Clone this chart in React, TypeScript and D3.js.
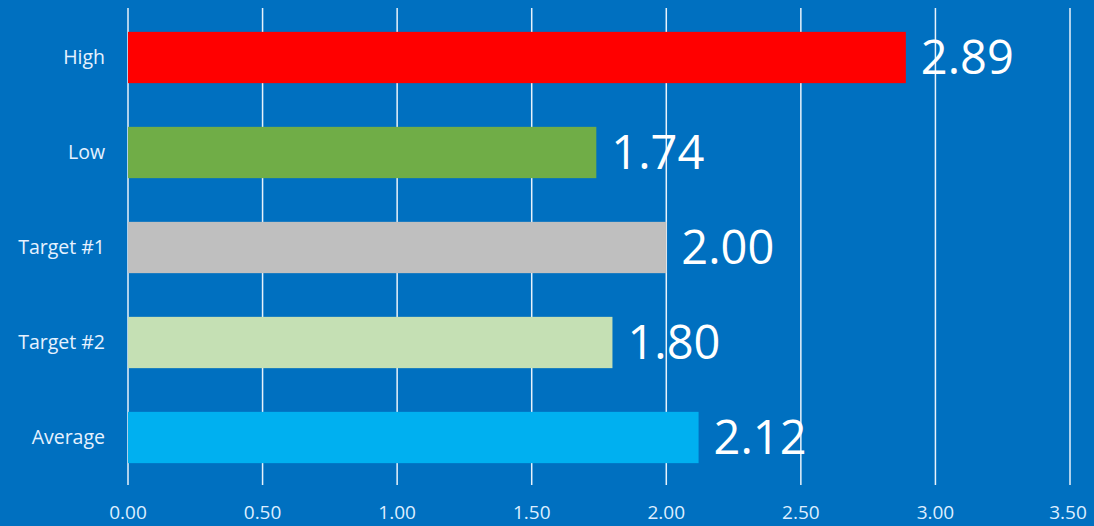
import React from "react";
import * as d3 from "d3";

const categories = ["High", "Low", "Target #1", "Target #2", "Average"];
const values = [2.89, 1.74, 2.0, 1.8, 2.12];
const barColors = ["#FF0000", "#70AD47", "#BFBFBF", "#C5E0B4", "#00B0F0"];
const tickValues = [0, 0.5, 1, 1.5, 2, 2.5, 3, 3.5];

const W = 1094;
const H = 526;
const FONT = "'Open Sans', 'Liberation Sans', sans-serif";

export default function App() {
  const x = d3.scaleLinear().domain([0, 3.5]).range([128, 1070]);
  const y = d3.scaleBand<string>().domain(categories).range([10, 485]).paddingInner(0.46).paddingOuter(0.23);
  const bw = y.bandwidth();

  return (
    <svg
      width={W}
      height={H}
      style={{ position: "absolute", left: 0, top: 0, display: "block" }}
      fontFamily={FONT}
    >
      <rect x={0} y={0} width={W} height={H} fill="#0070C0" />
      {tickValues.map((t) => (
        <line
          key={"g" + t}
          x1={x(t)}
          x2={x(t)}
          y1={8}
          y2={485}
          stroke="#E8F2FB"
          strokeWidth={1.5}
        />
      ))}
      {categories.map((c, i) => (
        <g key={c}>
          <rect x={x(0)} y={y(c)!} width={x(values[i]) - x(0)} height={bw} fill={barColors[i]} />
          <text
            x={105}
            y={y(c)! + bw / 2}
            dy="0.35em"
            textAnchor="end"
            fontSize={19.5}
            fill="#E6F2FF"
          >
            {c}
          </text>
          <text
            x={x(values[i]) + 15}
            y={y(c)! + bw / 2}
            dy="0.36em"
            textAnchor="start"
            fontSize={47}
            fill="#FFFFFF"
          >
            {d3.format(".2f")(values[i])}
          </text>
        </g>
      ))}
      {tickValues.map((t) => (
        <text
          key={"t" + t}
          x={t === 3.5 ? x(t) - 2 : x(t)}
          y={519}
          textAnchor="middle"
          fontSize={19}
          fill="#DDEEFF"
        >
          {d3.format(".2f")(t)}
        </text>
      ))}
    </svg>
  );
}
